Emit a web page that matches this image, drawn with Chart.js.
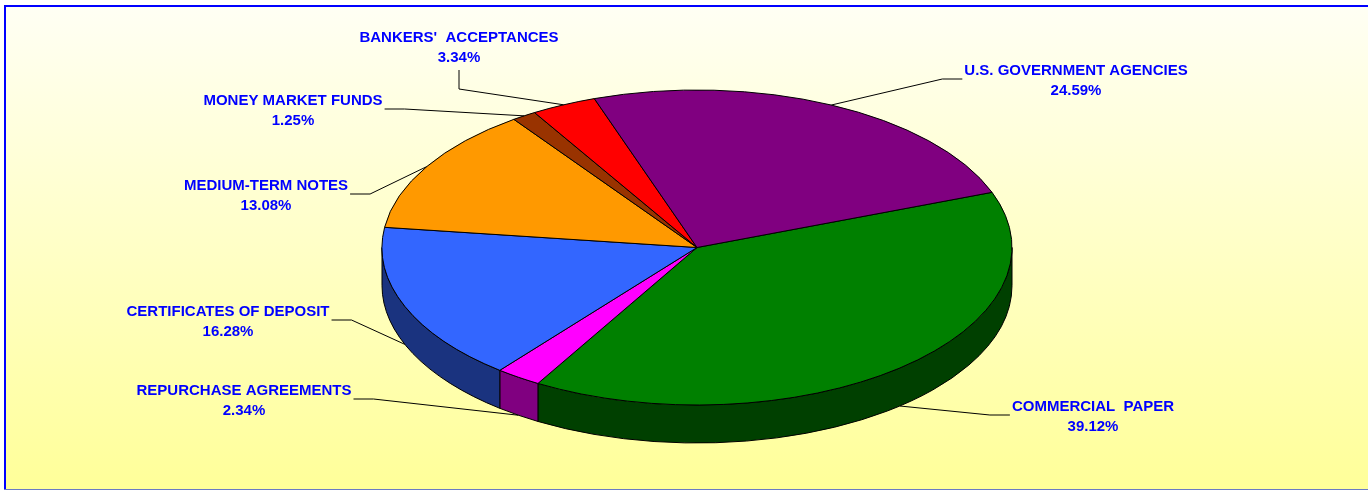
<!DOCTYPE html>
<html>
<head>
<meta charset="utf-8">
<script src="https://cdn.jsdelivr.net/npm/chart.js@4.4.1/dist/chart.umd.min.js"></script>
<style>
  html, body { margin: 0; padding: 0; background: #fff; }
  canvas { display: block; }
</style>
</head>
<body>
<canvas id="pie" width="1368" height="490"></canvas>
<script>
const categories = ['COMMERCIAL  PAPER', 'REPURCHASE AGREEMENTS', 'CERTIFICATES OF DEPOSIT', 'MEDIUM-TERM NOTES',
  'MONEY MARKET FUNDS', "BANKERS'  ACCEPTANCES", 'U.S. GOVERNMENT AGENCIES'];
const shares = [39.12, 2.34, 16.28, 13.08, 1.25, 3.34, 24.59];
const sliceColors = ['#008000', '#FF00FF', '#3366FF', '#FF9900', '#993300', '#FF0000', '#800080'];
const sideColors = ['#004000', '#800080', '#1A337F', '#804C00', '#4C1900', '#800000', '#400040'];

// centre of the first label line, and the side the leader line leaves from
const labelSpots = [
  { x: 1093, y: 405, hook: 'left' },
  { x: 244, y: 389, hook: 'right' },
  { x: 228, y: 310, hook: 'right' },
  { x: 266, y: 184, hook: 'right' },
  { x: 293, y: 99, hook: 'right' },
  { x: 459, y: 36, hook: 'down' },
  { x: 1076, y: 69, hook: 'left' }
];

const TILT = 0.5;     // vertical squash of the top face
const DEPTH = 38;     // thickness of the pie

const backdrop = {
  id: 'backdrop',
  beforeDraw(chart) {
    const ctx = chart.ctx;
    ctx.save();
    ctx.fillStyle = '#fff';
    ctx.fillRect(0, 0, chart.width, chart.height);
    const g = ctx.createLinearGradient(0, 7, 0, 489);
    g.addColorStop(0, '#FFFFF4');
    g.addColorStop(1, '#FFFF99');
    ctx.fillStyle = g;
    ctx.fillRect(6, 7, chart.width - 6, 482);
    ctx.fillStyle = '#0000FF';
    ctx.fillRect(4, 5, chart.width - 4, 2);
    ctx.fillRect(4, 5, 2, 484);
    ctx.fillStyle = '#6A7BC4';
    ctx.fillRect(4, 489, chart.width - 4, 1);
    ctx.restore();
  }
};

const tilted = {
  id: 'tilted',
  beforeDatasetsDraw(chart) {
    const ctx = chart.ctx;
    const arcs = chart.getDatasetMeta(0).data;
    const cx = arcs[0].x, cy = arcs[0].y, r = arcs[0].outerRadius;
    // front walls
    ctx.save();
    ctx.lineWidth = 1;
    ctx.strokeStyle = '#000';
    arcs.forEach((arc, i) => {
      for (let n = -1; n <= 1; n++) {
        const lo = Math.max(arc.startAngle, 2 * Math.PI * n);
        const hi = Math.min(arc.endAngle, 2 * Math.PI * n + Math.PI);
        if (hi <= lo) continue;
        ctx.beginPath();
        ctx.ellipse(cx, cy, r, r * TILT, 0, lo, hi, false);
        ctx.ellipse(cx, cy + DEPTH, r, r * TILT, 0, hi, lo, true);
        ctx.closePath();
        ctx.fillStyle = sideColors[i];
        ctx.fill();
        ctx.stroke();
      }
    });
    ctx.restore();

    // squash the top face; keep the outline width even
    ctx.save();
    ctx.translate(cx, cy);
    ctx.scale(1, TILT);
    ctx.translate(-cx, -cy);
    const dpr = chart.currentDevicePixelRatio;
    const plain = ctx.stroke;
    ctx.stroke = function () {
      this.save();
      this.setTransform(dpr, 0, 0, dpr, 0, 0);
      plain.call(this);
      this.restore();
    };
    ctx._plainStroke = plain;
  },
  afterDatasetsDraw(chart) {
    const ctx = chart.ctx;
    ctx.stroke = ctx._plainStroke;
    ctx.restore();
  }
};

const sliceLabels = {
  id: 'sliceLabels',
  afterDraw(chart) {
    const ctx = chart.ctx;
    const arcs = chart.getDatasetMeta(0).data;
    ctx.save();
    ctx.font = 'bold 15px "Liberation Sans", Arial, sans-serif';
    ctx.textAlign = 'center';
    ctx.textBaseline = 'alphabetic';
    arcs.forEach((arc, i) => {
      const spot = labelSpots[i];
      const w = ctx.measureText(categories[i]).width;
      let p0, p1;
      if (spot.hook === 'right') {
        p0 = [spot.x + w / 2 + 2, spot.y + 10];
        p1 = [p0[0] + 20, p0[1]];
      } else if (spot.hook === 'left') {
        p0 = [spot.x - w / 2 - 2, spot.y + 10];
        p1 = [p0[0] - 20, p0[1]];
      } else {
        p0 = [spot.x, spot.y + 34];
        p1 = [spot.x, spot.y + 53];
      }
      const mid = (arc.startAngle + arc.endAngle) / 2;
      const sin = Math.sin(mid);
      const px = arc.x + arc.outerRadius * Math.cos(mid);
      const py = arc.y + arc.outerRadius * TILT * sin + (sin > 0 ? DEPTH : 0);
      ctx.beginPath();
      ctx.moveTo(p0[0], p0[1]);
      ctx.lineTo(p1[0], p1[1]);
      ctx.lineTo(px, py);
      ctx.lineWidth = 1;
      ctx.strokeStyle = '#000';
      ctx.stroke();

      ctx.fillStyle = '#0000FF';
      ctx.fillText(categories[i], spot.x, spot.y + 5.5);
      ctx.fillText(shares[i].toFixed(2) + '%', spot.x, spot.y + 25.5);
    });
    ctx.restore();
  }
};

new Chart(document.getElementById('pie'), {
  type: 'pie',
  data: {
    labels: categories,
    datasets: [{
      data: shares,
      backgroundColor: sliceColors,
      borderColor: '#000',
      borderWidth: 1,
      clip: false
    }]
  },
  options: {
    responsive: false,
    animation: false,
    rotation: 69.5,
    radius: 315,
    layout: { padding: { left: 26, top: 5 } },
    plugins: {
      legend: { display: false },
      tooltip: { enabled: false }
    }
  },
  plugins: [backdrop, tilted, sliceLabels]
});
</script>
</body>
</html>
